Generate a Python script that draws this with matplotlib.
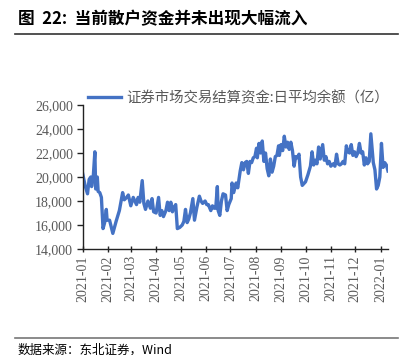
import numpy as np
import pandas as pd
import matplotlib
matplotlib.use("Agg")
import matplotlib.pyplot as plt
import matplotlib.dates as mdates
from matplotlib.ticker import FuncFormatter
from matplotlib.lines import Line2D

# data
dates = [
    "2021-01-01", "2021-01-04", "2021-01-07", "2021-01-09", "2021-01-11", "2021-01-12", "2021-01-14",
    "2021-01-16", "2021-01-17", "2021-01-19", "2021-01-20", "2021-01-22", "2021-01-24", "2021-01-26",
    "2021-01-28", "2021-01-30", "2021-01-31", "2021-02-03", "2021-02-07", "2021-02-11", "2021-02-15",
    "2021-02-19", "2021-02-21", "2021-02-24", "2021-02-26", "2021-03-01", "2021-03-04", "2021-03-08",
    "2021-03-10", "2021-03-12", "2021-03-15", "2021-03-17", "2021-03-19", "2021-03-22", "2021-03-25",
    "2021-03-27", "2021-03-29", "2021-04-01", "2021-04-04", "2021-04-06", "2021-04-08", "2021-04-10",
    "2021-04-13", "2021-04-15", "2021-04-17", "2021-04-19", "2021-04-21", "2021-04-23", "2021-04-25",
    "2021-04-27", "2021-04-30", "2021-05-03", "2021-05-05", "2021-05-07", "2021-05-09", "2021-05-11",
    "2021-05-13", "2021-05-16", "2021-05-18", "2021-05-21", "2021-05-24", "2021-05-26", "2021-05-28",
    "2021-05-31", "2021-06-02", "2021-06-04", "2021-06-07", "2021-06-09", "2021-06-11", "2021-06-13",
    "2021-06-15", "2021-06-16", "2021-06-18", "2021-06-20", "2021-06-22", "2021-06-25", "2021-06-27",
    "2021-06-29", "2021-07-02", "2021-07-03", "2021-07-05", "2021-07-08", "2021-07-10", "2021-07-13",
    "2021-07-15", "2021-07-17", "2021-07-19", "2021-07-21", "2021-07-23", "2021-07-25", "2021-07-27",
    "2021-07-29", "2021-07-31", "2021-08-02", "2021-08-03", "2021-08-05", "2021-08-07", "2021-08-09",
    "2021-08-11", "2021-08-13", "2021-08-15", "2021-08-17", "2021-08-19", "2021-08-21", "2021-08-23",
    "2021-08-25", "2021-08-27", "2021-08-29", "2021-08-30", "2021-09-01", "2021-09-03", "2021-09-05",
    "2021-09-07", "2021-09-09", "2021-09-11", "2021-09-13", "2021-09-15", "2021-09-17", "2021-09-19",
    "2021-09-21", "2021-09-23", "2021-09-25", "2021-09-27", "2021-10-01", "2021-10-04", "2021-10-07",
    "2021-10-09", "2021-10-11", "2021-10-13", "2021-10-15", "2021-10-17", "2021-10-19", "2021-10-22",
    "2021-10-24", "2021-10-26", "2021-10-28", "2021-10-30", "2021-11-01", "2021-11-04", "2021-11-06",
    "2021-11-08", "2021-11-10", "2021-11-12", "2021-11-14", "2021-11-16", "2021-11-18", "2021-11-20",
    "2021-11-22", "2021-11-24", "2021-11-26", "2021-11-28", "2021-11-30", "2021-12-02", "2021-12-04",
    "2021-12-06", "2021-12-08", "2021-12-10", "2021-12-12", "2021-12-14", "2021-12-16", "2021-12-18",
    "2021-12-20", "2021-12-23", "2021-12-25", "2021-12-27", "2021-12-29", "2021-12-31", "2022-01-02",
    "2022-01-04", "2022-01-06", "2022-01-08", "2022-01-10",
]
balance = [
    20300, 19300, 18600, 19800, 20000, 19200, 20000,
    22100, 19000, 20000, 18800, 18700, 18300, 15700,
    16200, 17300, 16400, 16400, 15300, 16300, 17200,
    18700, 18100, 18300, 18500, 17600, 18300, 17700,
    18300, 17900, 19700, 17800, 17300, 18000, 17400,
    18200, 17100, 17000, 18300, 16800, 17200, 16700,
    17200, 17900, 17200, 17900, 17100, 17500, 17700,
    15700, 15800, 16000, 16300, 17300, 16200, 16500,
    17000, 18200, 16400, 17500, 18400, 18000, 17800,
    18000, 17700, 17700, 17200, 17600, 17400, 17400,
    19200, 17200, 16800, 18000, 18600, 18500, 17200,
    17700, 18200, 19500, 18700, 19500, 19100, 20500,
    21200, 20600, 21200, 21300, 20300, 21300, 21200,
    21600, 21700, 22400, 21600, 22800, 22000, 23000,
    21300, 22000, 20700, 20100, 21500, 20400, 20900,
    21700, 21800, 22600, 21800, 22700, 22200, 23400,
    22500, 22900, 22300, 22900, 22200, 20900, 21700,
    21600, 21900, 20000, 19300, 19600, 20200, 20900,
    22100, 21000, 21400, 21100, 22500, 21500, 22700,
    21400, 21700, 21100, 21300, 20900, 21100, 20900,
    21900, 21100, 21000, 21100, 21300, 21100, 22600,
    22100, 22000, 22700, 21800, 22100, 21700, 22000,
    22800, 22000, 22100, 21000, 21600, 21100, 21300,
    23600, 21200, 20600, 19000, 19300, 20000, 22800,
    20800, 21200, 21000, 20500,
]
tick_months = pd.date_range("2021-01-01", "2022-01-01", freq="MS")
series_label = "证券市场交易结算资金:日平均余额（亿）"
title = "图  22:  当前散户资金并未出现大幅流入"
source = "数据来源：东北证券，Wind"

x = pd.to_datetime(dates)
y = np.array(balance)

fig = plt.figure(figsize=(4.05, 3.55), dpi=100)
ax = fig.add_axes([0.204, 0.2986, 0.754, 0.4056])

line_color = "#4472C4"
ax.plot(x, y, color=line_color, lw=2.4, solid_joinstyle="round")

ax.set_ylim(14000, 26000)
ax.set_yticks(np.arange(14000, 26001, 2000))
ax.yaxis.set_major_formatter(FuncFormatter(lambda v, p: f"{int(v):,}"))
ax.set_xlim(pd.Timestamp("2021-01-01"), pd.Timestamp("2022-01-10"))
ax.set_xticks(tick_months)
ax.xaxis.set_major_formatter(mdates.DateFormatter("%Y-%m"))

for s in ["top", "right"]:
    ax.spines[s].set_visible(False)
for s in ["left", "bottom"]:
    ax.spines[s].set_color("#222222")
    ax.spines[s].set_linewidth(1.0)

ax.tick_params(axis="y", direction="out", length=4, width=1, color="#222222",
               labelsize=10, labelcolor="#595959", pad=3)
ax.tick_params(axis="x", direction="inout", length=5, width=1, color="#222222",
               labelsize=10, labelcolor="#595959", labelrotation=90, pad=2)
for lab in ax.get_xticklabels() + ax.get_yticklabels():
    lab.set_fontfamily("Liberation Serif")

handle = Line2D([], [], color=line_color, lw=2.4)
leg = ax.legend([handle], [series_label], loc="center left", frameon=False,
                bbox_to_anchor=(88 / 405, 1 - 98 / 355), bbox_transform=fig.transFigure,
                borderpad=0, borderaxespad=0, handlelength=2.3, handletextpad=0.35,
                prop={"family": ["Noto Sans CJK SC", "DejaVu Sans"], "size": 10.4})
for t in leg.get_texts():
    t.set_color("#595959")

# title and source with rules
fig.text(18 / 405, 1 - 19 / 355, title, fontsize=12, fontweight="bold",
         family=["Noto Sans CJK SC", "DejaVu Sans"], va="center", ha="left", color="black")
fig.add_artist(Line2D([15 / 405, 398 / 405], [1 - 34 / 355] * 2, color="#333333", lw=1.2))
fig.add_artist(Line2D([15 / 405, 398 / 405], [1 - 338 / 355] * 2, color="#777777", lw=1.2))
fig.text(18 / 405, 1 - 350 / 355, source, fontsize=9,
         family=["Noto Sans CJK SC", "DejaVu Sans"], va="center", ha="left", color="black")

fig.savefig("out.png", dpi=100)
